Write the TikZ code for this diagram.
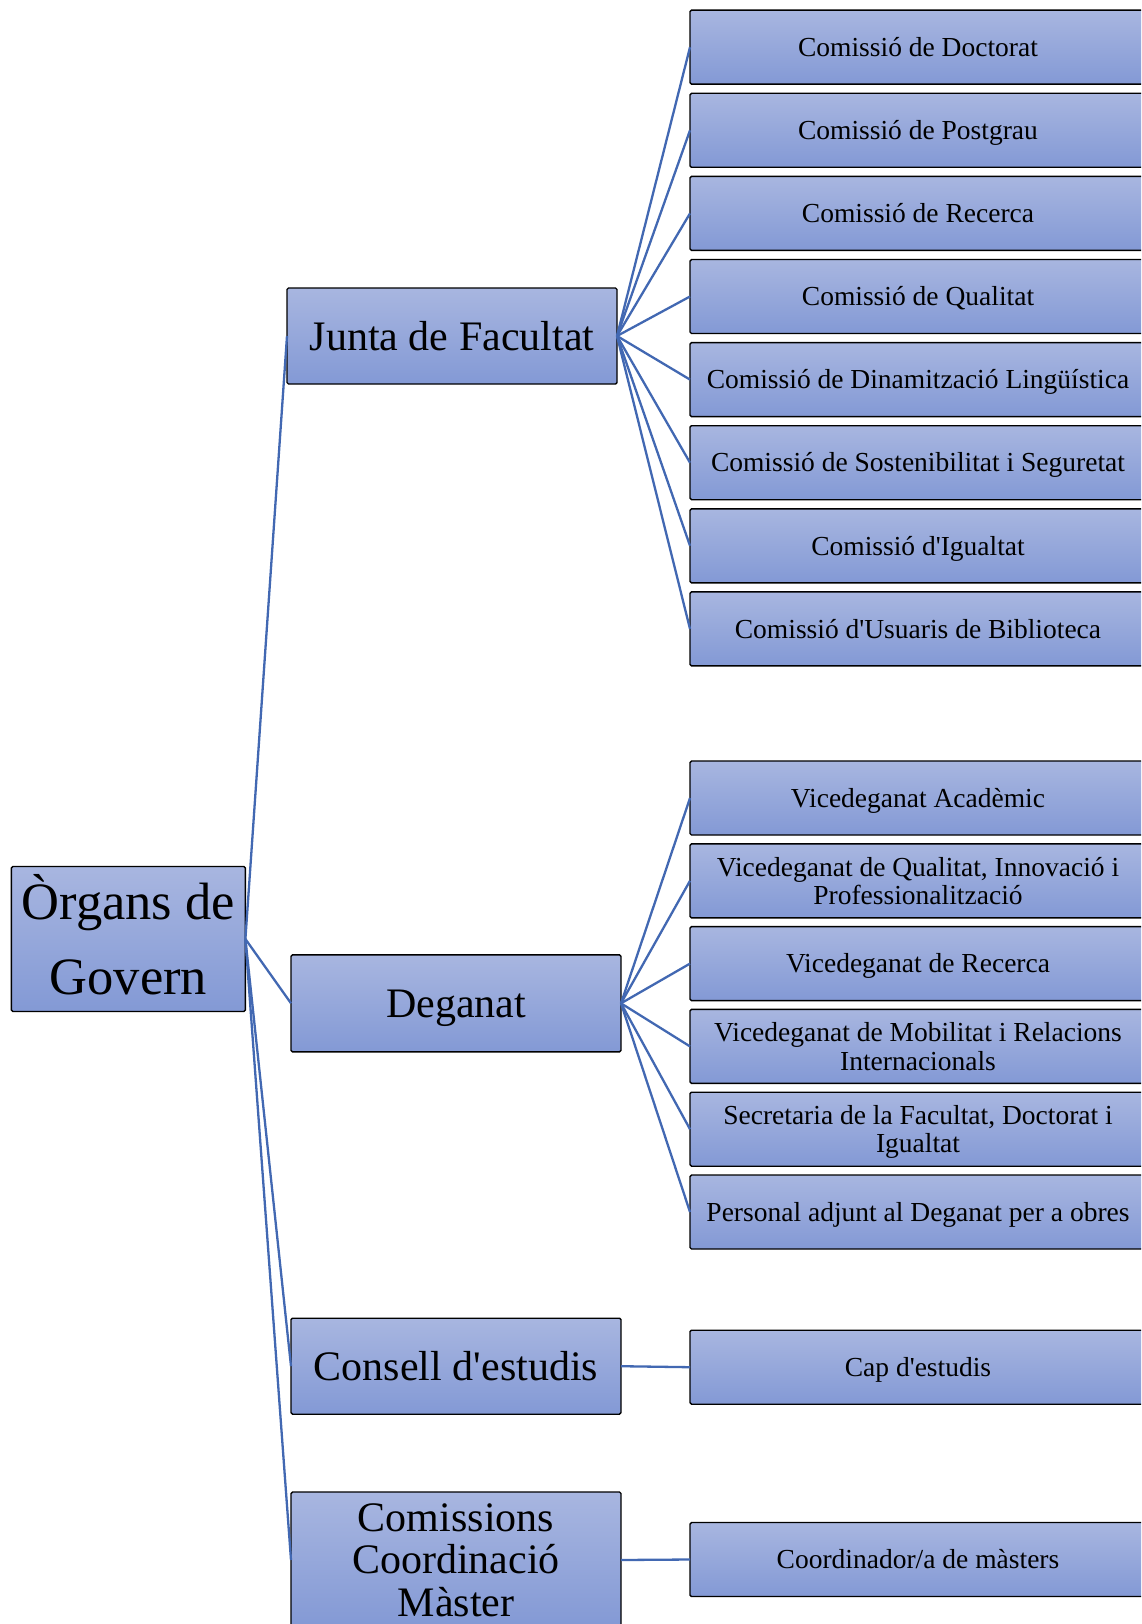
\documentclass[tikz,border=0pt]{standalone}
\usepackage{fontspec}
\setmainfont{Liberation Serif}
\usetikzlibrary{positioning}

\definecolor{boxtop}{RGB}{168,182,224}
\definecolor{boxbot}{RGB}{131,153,213}
\definecolor{linkblue}{RGB}{66,104,178}

\newcommand{\apos}{\textquotesingle}

\tikzset{
  orgbox/.style={rectangle, draw=black, line width=1.4pt, rounded corners=1.5pt,
    top color=boxtop, bottom color=boxbot, inner sep=0pt, outer sep=0pt, align=center},
  smallbox/.style={orgbox, minimum width=456pt, minimum height=74pt,
    font=\fontsize{27.5pt}{28.4pt}\selectfont},
  smallline/.style={smallbox, text height=25.4pt, text depth=7pt},
  bigbox/.style={orgbox, minimum width=330pt, minimum height=96pt,
    font=\fontsize{42pt}{42.5pt}\selectfont},
  bigline/.style={bigbox, text height=38.6pt, text depth=10pt},
  link/.style={linkblue, line width=2.3pt}
}

\begin{document}
\begin{tikzpicture}[x=1pt,y=-1pt]
		\useasboundingbox (0,0) rectangle (1141,1624);
		\clip (0,0) rectangle (1141,1624);
		% root
		\node[orgbox, minimum width=234pt, minimum height=145pt, font=\fontsize{52.5pt}{75pt}\selectfont] (organs) at (128.4,939) {Òrgans de\\Govern\rule[-8.5pt]{0pt}{8.5pt}};
		% second level
		\node[bigline] (junta) at (452,336) {Junta de Facultat};
		\node[bigline, minimum height=97pt] (deganat) at (456,1003.3) {Deganat};
		\node[bigline] (consell) at (456,1366.2) {Consell d\apos estudis};
		\node[bigbox, minimum height=136pt] (comissions) at (456,1560) {Comissions\\Coordinació\\Màster};
		% commissions of the Junta
		\node[smallline] (doctorat) at (918,47.2) {Comissió de Doctorat};
		\node[smallline] (postgrau) at (918,130.3) {Comissió de Postgrau};
		\node[smallline] (recerca) at (918,213.4) {Comissió de Recerca};
		\node[smallline] (qualitat) at (918,296.5) {Comissió de Qualitat};
		\node[smallline] (linguistica) at (918,379.6) {Comissió de Dinamització Lingüística};
		\node[smallline] (sostenibilitat) at (918,462.7) {Comissió de Sostenibilitat i Seguretat};
		\node[smallline] (igualtat) at (918,545.8) {Comissió d\apos Igualtat};
		\node[smallline] (biblioteca) at (918,628.9) {Comissió d\apos Usuaris de Biblioteca};
		% deanery
		\node[smallline] (academic) at (918,798) {Vicedeganat Acadèmic};
		\node[smallbox] (innovacio) at (918,880.8) {Vicedeganat de Qualitat, Innovació i\\Professionalització};
		\node[smallline] (vrecerca) at (918,963.6) {Vicedeganat de Recerca};
		\node[smallbox] (mobilitat) at (918,1046.4) {Vicedeganat de Mobilitat i Relacions\\Internacionals};
		\node[smallbox] (secretaria) at (918,1129.2) {Secretaria de la Facultat, Doctorat i\\\smash{Igualtat}};
		\node[smallline] (obres) at (918,1212) {Personal adjunt al Deganat per a obres};
		% studies
		\node[smallline] (cap) at (918,1367.2) {Cap d\apos estudis};
		\node[smallline] (coordinador) at (918,1559.5) {Coordinador/a de màsters};
		% links
		\draw[link] (organs.east) -- (junta.west);
		\draw[link] (organs.east) -- (deganat.west);
		\draw[link] (organs.east) -- (consell.west);
		\draw[link] (organs.east) -- (comissions.west);
		\draw[link] (junta.east) -- (doctorat.west);
		\draw[link] (junta.east) -- (postgrau.west);
		\draw[link] (junta.east) -- (recerca.west);
		\draw[link] (junta.east) -- (qualitat.west);
		\draw[link] (junta.east) -- (linguistica.west);
		\draw[link] (junta.east) -- (sostenibilitat.west);
		\draw[link] (junta.east) -- (igualtat.west);
		\draw[link] (junta.east) -- (biblioteca.west);
		\draw[link] (deganat.east) -- (academic.west);
		\draw[link] (deganat.east) -- (innovacio.west);
		\draw[link] (deganat.east) -- (vrecerca.west);
		\draw[link] (deganat.east) -- (mobilitat.west);
		\draw[link] (deganat.east) -- (secretaria.west);
		\draw[link] (deganat.east) -- (obres.west);
		\draw[link] (consell.east) -- (cap.west);
		\draw[link] (comissions.east) -- (coordinador.west);
\end{tikzpicture}
\end{document}
